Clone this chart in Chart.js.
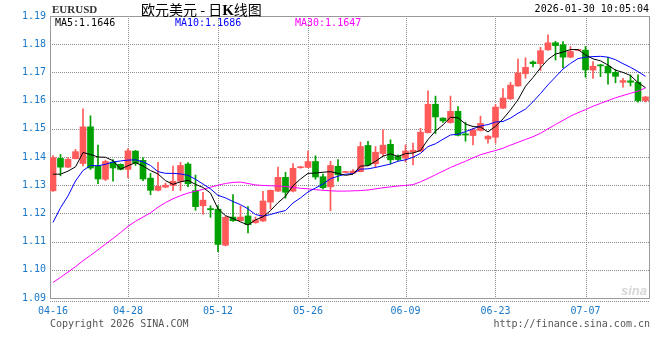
<!DOCTYPE html>
<html lang="zh-CN">
<head>
<meta charset="UTF-8">
<title>欧元美元 - 日K线图</title>
<script src="https://cdn.jsdelivr.net/npm/chart.js"></script>
<style>
    html, body { margin: 0; padding: 0; background: #fff; }
    #wrap { position: relative; width: 660px; height: 360px; overflow: hidden; }
    #wrap canvas { position: absolute; left: 0; top: 0; }
    .txt { position: absolute; white-space: nowrap; font: 10px "DejaVu Sans Mono", monospace; line-height: 12px; color: #000; }
    #symbol { left: 52px; top: 3px; font: bold 11px "Liberation Serif", serif; color: #333; }
    #title { left: 141px; top: 1px; font: 14px "Noto Sans CJK SC", sans-serif; line-height: 17px; }
    #title b { font-family: "Liberation Serif", serif; font-size: 15px; }
    #stamp { right: 11px; top: 3px; }
    #ma5txt { left: 55px; top: 17px; color: #000; }
    #ma10txt { left: 175px; top: 17px; color: #0000ff; }
    #ma30txt { left: 295px; top: 17px; color: #ff00ff; }
    #copy { left: 50px; top: 318px; color: #555; }
    #site { right: 10px; top: 318px; color: #555; }
    #logo { right: 13px; top: 283px; font: italic bold 13px "Liberation Sans", sans-serif; color: #d6d6d6; }
</style>
</head>
<body>
<div id="wrap">
    <canvas id="kline" width="660" height="360"></canvas>
    <div class="txt" id="symbol">EURUSD</div>
    <div class="txt" id="title">欧元美元 - 日<b>K</b>线图</div>
    <div class="txt" id="stamp">2026-01-30 10:05:04</div>
    <div class="txt" id="ma5txt">MA5:1.1646</div>
    <div class="txt" id="ma10txt">MA10:1.1686</div>
    <div class="txt" id="ma30txt">MA30:1.1647</div>
    <div class="txt" id="copy">Copyright 2026 SINA.COM</div>
    <div class="txt" id="site">http://finance.sina.com.cn</div>
    <div class="txt" id="logo">sina</div>
</div>
<script>
    // 日K数据
    const opens = [1.1280, 1.1395, 1.1364, 1.1394, 1.1377, 1.1507, 1.1368, 1.1321, 1.1382, 1.1374,
        1.1356, 1.1421, 1.1388, 1.1325, 1.1282, 1.1293, 1.1299, 1.1314, 1.1375, 1.1281,
        1.1227, 1.1217, 1.1215, 1.1087, 1.1187, 1.1174, 1.1191, 1.1167, 1.1173, 1.1240,
        1.1279, 1.1328, 1.1279, 1.1362, 1.1363, 1.1384, 1.1330, 1.1294, 1.1367, 1.1345,
        1.1343, 1.1348, 1.1441, 1.1376, 1.1412, 1.1445, 1.1402, 1.1396, 1.1417, 1.1421,
        1.1486, 1.1587, 1.1538, 1.1522, 1.1562, 1.1482, 1.1476, 1.1494, 1.1464, 1.1470,
        1.1573, 1.1606, 1.1652, 1.1695, 1.1737, 1.1731, 1.1780, 1.1805, 1.1798, 1.1754,
        1.1778, 1.1779, 1.1708, 1.1725, 1.1722, 1.1700, 1.1665, 1.1670, 1.1665, 1.1600];
    const highs = [1.1405, 1.1409, 1.1398, 1.1427, 1.1571, 1.1546, 1.1442, 1.1389, 1.1391, 1.1376,
        1.1430, 1.1423, 1.1398, 1.1342, 1.1381, 1.1307, 1.1368, 1.1381, 1.1380, 1.1336,
        1.1275, 1.1227, 1.1228, 1.1190, 1.1267, 1.1227, 1.1224, 1.1187, 1.1278, 1.1283,
        1.1364, 1.1346, 1.1377, 1.1367, 1.1421, 1.1404, 1.1339, 1.1385, 1.1391, 1.1349,
        1.1355, 1.1453, 1.1456, 1.1437, 1.1496, 1.1461, 1.1408, 1.1443, 1.1449, 1.1502,
        1.1635, 1.1616, 1.1539, 1.1616, 1.1579, 1.1523, 1.1502, 1.1545, 1.1476, 1.1586,
        1.1643, 1.1665, 1.1747, 1.1752, 1.1741, 1.1789, 1.1833, 1.1810, 1.1809, 1.1792,
        1.1781, 1.1792, 1.1738, 1.1729, 1.1753, 1.1710, 1.1679, 1.1691, 1.1691, 1.1615];
    const lows = [1.1278, 1.1333, 1.1362, 1.1393, 1.1368, 1.1356, 1.1305, 1.1316, 1.1314, 1.1354,
        1.1327, 1.1370, 1.1316, 1.1266, 1.1280, 1.1291, 1.1281, 1.1281, 1.1295, 1.1211,
        1.1196, 1.1186, 1.1064, 1.1085, 1.1172, 1.1173, 1.1131, 1.1165, 1.1172, 1.1215,
        1.1278, 1.1254, 1.1276, 1.1360, 1.1362, 1.1321, 1.1287, 1.1210, 1.1314, 1.1344,
        1.1341, 1.1347, 1.1368, 1.1363, 1.1404, 1.1376, 1.1387, 1.1382, 1.1372, 1.1420,
        1.1485, 1.1483, 1.1523, 1.1520, 1.1475, 1.1456, 1.1443, 1.1492, 1.1449, 1.1449,
        1.1571, 1.1604, 1.1650, 1.1679, 1.1719, 1.1706, 1.1778, 1.1744, 1.1717, 1.1752,
        1.1776, 1.1683, 1.1679, 1.1685, 1.1658, 1.1663, 1.1648, 1.1652, 1.1594, 1.1595];
    const closes = [1.1398, 1.1364, 1.1392, 1.1419, 1.1507, 1.1361, 1.1322, 1.1384, 1.1361, 1.1356,
        1.1422, 1.1378, 1.1322, 1.1282, 1.1296, 1.1300, 1.1314, 1.1370, 1.1305, 1.1224,
        1.1247, 1.1213, 1.1090, 1.1186, 1.1174, 1.1187, 1.1160, 1.1177, 1.1244, 1.1282,
        1.1328, 1.1275, 1.1360, 1.1365, 1.1384, 1.1329, 1.1291, 1.1370, 1.1337, 1.1348,
        1.1350, 1.1437, 1.1371, 1.1417, 1.1442, 1.1390, 1.1391, 1.1421, 1.1424, 1.1488,
        1.1587, 1.1542, 1.1528, 1.1562, 1.1477, 1.1478, 1.1496, 1.1519, 1.1474, 1.1577,
        1.1609, 1.1655, 1.1698, 1.1718, 1.1731, 1.1777, 1.1805, 1.1795, 1.1754, 1.1774,
        1.1779, 1.1709, 1.1722, 1.1723, 1.1698, 1.1686, 1.1671, 1.1665, 1.1600, 1.1613];

    // 均线
    const ma5 = [1.1339, 1.1339, 1.1350, 1.1365, 1.1416, 1.1409, 1.1400, 1.1399, 1.1387, 1.1357,
        1.1369, 1.1380, 1.1368, 1.1352, 1.1340, 1.1316, 1.1303, 1.1312, 1.1317, 1.1303,
        1.1292, 1.1272, 1.1216, 1.1192, 1.1182, 1.1170, 1.1159, 1.1177, 1.1188, 1.1210,
        1.1238, 1.1261, 1.1298, 1.1322, 1.1342, 1.1343, 1.1346, 1.1348, 1.1342, 1.1335,
        1.1339, 1.1368, 1.1369, 1.1385, 1.1403, 1.1411, 1.1402, 1.1412, 1.1414, 1.1423,
        1.1462, 1.1492, 1.1514, 1.1541, 1.1539, 1.1517, 1.1508, 1.1506, 1.1489, 1.1509,
        1.1535, 1.1567, 1.1603, 1.1651, 1.1682, 1.1716, 1.1746, 1.1765, 1.1772, 1.1781,
        1.1781, 1.1762, 1.1748, 1.1741, 1.1726, 1.1708, 1.1700, 1.1689, 1.1664, 1.1646];
    const ma10 = [1.1168, 1.1220, 1.1262, 1.1315, 1.1352, 1.1370, 1.1369, 1.1374, 1.1382, 1.1386,
        1.1389, 1.1390, 1.1383, 1.1370, 1.1348, 1.1342, 1.1342, 1.1340, 1.1335, 1.1321,
        1.1304, 1.1287, 1.1264, 1.1255, 1.1242, 1.1231, 1.1216, 1.1196, 1.1190, 1.1196,
        1.1204, 1.1210, 1.1237, 1.1255, 1.1276, 1.1290, 1.1304, 1.1323, 1.1332, 1.1339,
        1.1341, 1.1357, 1.1358, 1.1363, 1.1369, 1.1375, 1.1385, 1.1390, 1.1399, 1.1413,
        1.1437, 1.1447, 1.1463, 1.1478, 1.1481, 1.1490, 1.1500, 1.1510, 1.1515, 1.1524,
        1.1526, 1.1538, 1.1555, 1.1570, 1.1596, 1.1625, 1.1656, 1.1684, 1.1712, 1.1732,
        1.1749, 1.1754, 1.1756, 1.1757, 1.1754, 1.1745, 1.1731, 1.1718, 1.1703, 1.1686];
    const ma30 = [1.0955, 1.0973, 1.0992, 1.1011, 1.1032, 1.1051, 1.1071, 1.1091, 1.1111, 1.1132,
        1.1154, 1.1172, 1.1187, 1.1202, 1.1222, 1.1238, 1.1252, 1.1263, 1.1272, 1.1279,
        1.1285, 1.1293, 1.1300, 1.1306, 1.1310, 1.1311, 1.1306, 1.1301, 1.1299, 1.1298,
        1.1297, 1.1295, 1.1293, 1.1289, 1.1287, 1.1284, 1.1282, 1.1280, 1.1279, 1.1279,
        1.1280, 1.1281, 1.1283, 1.1287, 1.1291, 1.1294, 1.1297, 1.1299, 1.1302, 1.1312,
        1.1324, 1.1337, 1.1350, 1.1363, 1.1374, 1.1385, 1.1397, 1.1408, 1.1416, 1.1423,
        1.1431, 1.1442, 1.1452, 1.1462, 1.1472, 1.1484, 1.1500, 1.1515, 1.1530, 1.1545,
        1.1557, 1.1568, 1.1580, 1.1590, 1.1600, 1.1610, 1.1618, 1.1626, 1.1633, 1.1645];

    // 坐标轴刻度
    const tickIdx = [0, 10, 22, 34, 47, 59, 71];
    const tickLabels = ['04-16', '04-28', '05-12', '05-26', '06-09', '06-23', '07-07'];
    const yTicks = [1.09, 1.10, 1.11, 1.12, 1.13, 1.14, 1.15, 1.16, 1.17, 1.18, 1.19];

    const UP = '#ff5a5a';
    const DOWN = '#00a000';

    const cores = closes.map((c, i) => c >= opens[i] ? UP : DOWN);
    const wicks = highs.map((h, i) => ({ x: i, y: [lows[i], h] }));
    const bodies = opens.map((o, i) => ({ x: i, y: [Math.min(o, closes[i]), Math.max(o, closes[i])] }));
    const linha = arr => arr.map((v, i) => ({ x: i, y: v }));

    // moldura + linhas pontilhadas da grade
    const moldura = {
        id: 'moldura',
        beforeDatasetsDraw(chart) {
            const { ctx, chartArea: a, scales } = chart;
            ctx.save();
            ctx.lineWidth = 1;
            ctx.strokeStyle = '#8c8c8c';
            ctx.setLineDash([1, 1]);
            ctx.beginPath();
            yTicks.forEach(v => {
                const y = Math.round(scales.y.getPixelForValue(v)) + 0.5;
                ctx.moveTo(a.left, y);
                ctx.lineTo(a.right, y);
            });
            tickIdx.slice(1).forEach(v => {
                const x = Math.round(scales.x.getPixelForValue(v)) + 0.5;
                ctx.moveTo(x, a.top);
                ctx.lineTo(x, a.bottom);
            });
            ctx.moveTo(a.left, a.bottom + 3.5);
            ctx.lineTo(a.right, a.bottom + 3.5);
            ctx.stroke();
            ctx.setLineDash([]);
            ctx.strokeStyle = '#999';
            ctx.strokeRect(a.left + 0.5, a.top + 0.5, a.right - a.left - 1, a.bottom - a.top);
            ctx.restore();
        }
    };

    const fonte = { family: 'DejaVu Sans Mono', size: 10 };

    new Chart(document.getElementById('kline'), {
        type: 'bar',
        data: {
            datasets: [
                { type: 'line', data: linha(ma5), borderColor: '#000', borderWidth: 1, pointRadius: 0, tension: 0, order: 0 },
                { type: 'line', data: linha(ma10), borderColor: '#0000ff', borderWidth: 1, pointRadius: 0, tension: 0, order: 1 },
                { type: 'line', data: linha(ma30), borderColor: '#ff00ff', borderWidth: 1, pointRadius: 0, tension: 0, order: 2 },
                { data: bodies, backgroundColor: cores, barThickness: 6, minBarLength: 1, grouped: false, borderWidth: 0, order: 3 },
                { data: wicks, backgroundColor: cores, barThickness: 1, minBarLength: 1, grouped: false, borderWidth: 0, order: 4 }
            ]
        },
        options: {
            responsive: false,
            animation: false,
            layout: { padding: { top: 16, right: 10, left: 0, bottom: 0 } },
            plugins: { legend: { display: false }, tooltip: { enabled: false } },
            scales: {
                x: {
                    type: 'linear', min: -0.4, max: 79.6, offset: false,
                    afterBuildTicks: s => { s.ticks = tickIdx.map(v => ({ value: v })); },
                    afterFit: s => { s.height = 62; },
                    grid: { drawOnChartArea: false, drawTicks: false, color: 'rgba(0,0,0,0)' },
                    border: { display: false },
                    ticks: {
                        padding: 7, color: '#1a78c8', font: fonte, maxRotation: 0, autoSkip: false,
                        callback: v => tickLabels[tickIdx.indexOf(v)]
                    }
                },
                y: {
                    min: 1.09, max: 1.19,
                    afterBuildTicks: s => { s.ticks = yTicks.map(v => ({ value: v })); },
                    afterFit: s => { s.width = 50; },
                    grid: { drawOnChartArea: false, drawTicks: false, color: 'rgba(0,0,0,0)' },
                    border: { display: false },
                    ticks: { padding: 4, color: '#1a78c8', font: fonte, callback: v => v.toFixed(2) }
                }
            }
        },
        plugins: [moldura]
    });
</script>
</body>
</html>
